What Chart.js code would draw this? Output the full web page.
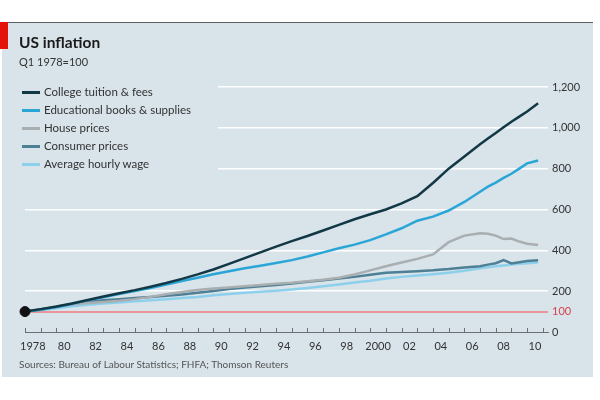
<!DOCTYPE html>
<html>
<head>
<meta charset="utf-8">
<script src="https://cdn.jsdelivr.net/npm/chart.js@4.4.1/dist/chart.umd.min.js"></script>
<style>
  body { margin: 0; width: 600px; height: 400px; background: #fff; font-family: Lato, "Open Sans", sans-serif; overflow: hidden; }
  #panel { position: absolute; left: 2px; top: 22px; width: 591px; height: 354px; background: #d8e3ea; border-top: 1px solid #5a5f63; }
  #redbox { position: absolute; left: 0; top: 22px; width: 8px; height: 27px; background: #e3120b; }
  #wrap { position: absolute; left: 0; top: 0; width: 600px; height: 400px; }
  #title { position: absolute; left: 19px; top: 33px; font-size: 15.5px; font-weight: bold; color: #1b1b1b; }
  #subtitle { position: absolute; left: 19px; top: 55px; font-size: 11px; color: #333; }
  #legend { position: absolute; left: 20px; top: 83px; width: 198px; height: 89px; background: #d8e3ea; }
  .item { height: 18px; line-height: 18px; font-size: 11.5px; color: #333; white-space: nowrap; }
  .swatch { display: inline-block; width: 18px; height: 3px; vertical-align: middle; margin: 0 4px 2px 2px; }
  #source { position: absolute; left: 19px; top: 358px; font-size: 10px; color: #555; }
</style>
</head>
<body>
<div id="panel"></div>
<div id="redbox"></div>
<div id="wrap"><canvas id="chart" width="600" height="400"></canvas></div>
<div id="title">US inflation</div>
<div id="subtitle">Q1 1978=100</div>
<div id="legend"></div>
<div id="source">Sources: Bureau of Labour Statistics; FHFA; Thomson Reuters</div>
<script>
const years = [1978, 1979, 1980, 1981, 1982, 1983, 1984, 1985, 1986, 1987, 1988, 1989,
    1990, 1991, 1992, 1993, 1994, 1995, 1996, 1997, 1998, 1999, 2000, 2001, 2002, 2003,
    2004, 2005, 2006, 2007, 2007.5, 2008, 2008.5, 2009, 2009.5, 2010, 2010.7];

const college = [100, 112, 125, 140, 157, 174, 190, 205, 222, 240, 260, 282,
    306, 334, 362, 390, 418, 445, 470, 497, 525, 552, 577, 600, 630, 665,
    730, 800, 860, 920, 948, 975, 1003, 1030, 1055, 1080, 1120];
const books = [100, 110, 122, 138, 155, 170, 186, 201, 216, 232, 250, 266,
    283, 298, 312, 325, 338, 352, 370, 390, 410, 428, 450, 478, 508, 545,
    565, 595, 637, 687, 712, 732, 755, 775, 800, 826, 840];
const house = [100, 112, 124, 136, 142, 147, 153, 161, 172, 185, 196, 206,
    213, 218, 224, 230, 236, 241, 248, 256, 266, 282, 302, 322, 340, 358,
    380, 440, 472, 484, 481, 472, 455, 458, 443, 432, 426];
const consumer = [100, 109, 123, 137, 148, 155, 161, 167, 172, 177, 184, 192,
    201, 211, 218, 224, 230, 237, 246, 254, 262, 270, 280, 290, 294, 298,
    302, 308, 316, 322, 330, 337, 352, 336, 342, 348, 352];
const wage = [100, 108, 116, 126, 134, 140, 145, 150, 155, 160, 166, 172,
    180, 186, 192, 197, 202, 208, 215, 224, 233, 242, 251, 262, 270, 277,
    283, 290, 300, 312, 317, 322, 326, 330, 334, 337, 340];

const seriesNames = ["College tuition & fees", "Educational books & supplies", "House prices", "Consumer prices", "Average hourly wage"];
const seriesColors = ["#123846", "#2aa6d6", "#a9aeb1", "#4d7f95", "#8dd0ec"];
const seriesValues = [college, books, house, consumer, wage];

const xTickYears = [1978, 1980, 1982, 1984, 1986, 1988, 1990, 1992, 1994, 1996, 1998, 2000, 2002, 2004, 2006, 2008, 2010];
const xTickLabels = ["1978", "80", "82", "84", "86", "88", "90", "92", "94", "96", "98", "2000", "02", "04", "06", "08", "10"];
const yTicks = [0, 100, 200, 400, 600, 800, 1000, 1200];

// legend
const legendBox = document.getElementById("legend");
seriesNames.forEach((name, i) => {
    legendBox.innerHTML += `<div class="item"><span class="swatch" style="background:${seriesColors[i]}"></span>${name}</div>`;
});

// small year ticks rising from the axis
const yearTicks = {
    id: "yearTicks",
    afterDatasetsDraw(chart) {
        const x = chart.scales.x;
        const ctx = chart.ctx;
        const bottom = chart.chartArea.bottom;
        ctx.save();
        ctx.strokeStyle = "#6b6f72";
        ctx.lineWidth = 1;
        for (let yr = 1978; yr <= 2011; yr++) {
            const px = Math.round(x.getPixelForValue(yr)) + 0.5;
            ctx.beginPath();
            ctx.moveTo(px, bottom);
            ctx.lineTo(px, bottom - 4);
            ctx.stroke();
        }
        ctx.restore();
    }
};

const datasets = seriesValues.map((vals, i) => ({
    label: seriesNames[i],
    data: vals.map((v, j) => ({ x: years[j], y: v })),
    borderColor: seriesColors[i],
    borderWidth: 2.5,
    pointRadius: 0,
    tension: 0,
    fill: false
}));
datasets.unshift({
    label: "start",
    data: [{ x: years[0], y: college[0] }],
    showLine: false,
    clip: false,
    pointRadius: 5,
    pointBackgroundColor: "#111",
    pointBorderColor: "#111"
});

new Chart(document.getElementById("chart"), {
    type: "line",
    data: { datasets },
    options: {
        responsive: false,
        animation: false,
        devicePixelRatio: 1,
        layout: { padding: { left: 25, right: 7, top: 87, bottom: 0 } },
        plugins: { legend: { display: false }, tooltip: { enabled: false } },
        scales: {
            x: {
                type: "linear",
                min: 1978,
                max: 2011.33,
                afterBuildTicks: axis => { axis.ticks = xTickYears.map(y => ({ value: y + 0.5 })); },
                afterFit: s => { s.height = 68; },
                ticks: {
                    autoSkip: false,
                    maxRotation: 0,
                    padding: 8,
                    color: "#333",
                    font: { family: "Lato", size: 11 },
                    callback: (v, i) => xTickLabels[i]
                },
                grid: { drawOnChartArea: false, drawTicks: false },
                border: { display: true, color: "#6b6f72", width: 1 }
            },
            y: {
                position: "right",
                min: 0,
                max: 1200,
                afterBuildTicks: axis => { axis.ticks = yTicks.map(v => ({ value: v })); },
                afterFit: s => { s.width = 45; },
                ticks: {
                    padding: 4,
                    color: ctx => ctx.tick.value === 100 ? "#d8434d" : "#333",
                    font: { family: "Lato", size: 11 },
                    callback: v => v.toLocaleString("en-US")
                },
                grid: {
                    drawTicks: false,
                    color: ctx => ctx.tick.value === 100 ? "#e8959b" : (ctx.tick.value === 0 ? "#6b6f72" : "#ffffff"),
                    lineWidth: ctx => ctx.tick.value === 100 ? 2 : (ctx.tick.value === 0 ? 1 : 1.5)
                },
                border: { display: false }
            }
        }
    },
    plugins: [yearTicks]
});
</script>
</body>
</html>
